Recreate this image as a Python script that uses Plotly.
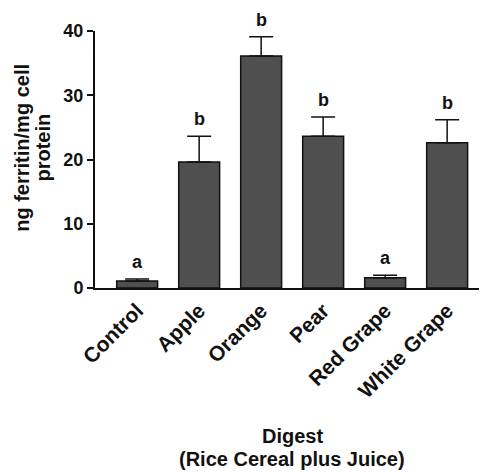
import plotly.graph_objects as go

categories = ["Control", "Apple", "Orange", "Pear", "Red Grape", "White Grape"]
values = [1.1, 19.6, 36.1, 23.6, 1.6, 22.6]
errors = [0.3, 4.0, 3.0, 3.0, 0.4, 3.6]
letters = ["a", "b", "b", "b", "a", "b"]
y_ticks = [0, 10, 20, 30, 40]

FONT = "Liberation Sans, Arial, Helvetica, sans-serif"
INK = "#111111"

fig = go.Figure()
fig.add_trace(go.Bar(
    x=list(range(len(categories))),
    y=values,
    width=0.66,
    marker=dict(color="#4f4f4f", line=dict(color=INK, width=1.5)),
    error_y=dict(type="data", array=errors, arrayminus=[0] * len(errors),
                 symmetric=False, color=INK, thickness=1.5, width=12),
    cliponaxis=False,
))

for i, (v, e, t) in enumerate(zip(values, errors, letters)):
    fig.add_annotation(x=i, y=v + e, text=f"<b>{t}</b>", showarrow=False,
                       yshift=17, font=dict(size=18, color=INK, family=FONT))

# x-axis title (two lines)
fig.add_annotation(x=0.512, y=-0.576, xref="paper", yref="paper",
                   text="<b>Digest</b>", showarrow=False,
                   font=dict(size=20, color=INK, family=FONT),
                   xanchor="center", yanchor="middle")
fig.add_annotation(x=0.512, y=-0.664, xref="paper", yref="paper",
                   text="<b>(Rice Cereal plus Juice)</b>", showarrow=False,
                   font=dict(size=20, color=INK, family=FONT),
                   xanchor="center", yanchor="middle")

# y-axis title (two lines)
fig.add_annotation(x=-0.19, y=0.545, xref="paper", yref="paper",
                   text="<b>ng ferritin/mg cell</b>", showarrow=False, textangle=-90,
                   font=dict(size=20, color=INK, family=FONT),
                   xanchor="center", yanchor="middle")
fig.add_annotation(x=-0.136, y=0.545, xref="paper", yref="paper",
                   text="<b>protein</b>", showarrow=False, textangle=-90,
                   font=dict(size=20, color=INK, family=FONT),
                   xanchor="center", yanchor="middle")

fig.update_layout(
    width=487, height=472,
    margin=dict(l=87, r=15, t=23, b=192),
    plot_bgcolor="white", paper_bgcolor="white",
    showlegend=False,
    font=dict(family=FONT, color=INK),
    xaxis=dict(
        range=[-0.68, 5.53],
        tickmode="array", tickvals=list(range(len(categories))),
        ticktext=[f"<b>{c}</b>" for c in categories],
        tickangle=-45, tickfont=dict(size=21, family=FONT, color=INK),
        showline=True, linecolor=INK, linewidth=2,
        ticks="", showgrid=False, zeroline=False,
    ),
    yaxis=dict(
        range=[0, 40], tickmode="array", tickvals=y_ticks,
        ticktext=[f"<b>{t}</b>" for t in y_ticks],
        tickfont=dict(size=18, family=FONT, color=INK),
        ticks="outside", ticklen=6, tickwidth=2, tickcolor=INK,
        showline=True, linecolor=INK, linewidth=2,
        showgrid=False, zeroline=False,
    ),
)

fig.write_html("out.html")
